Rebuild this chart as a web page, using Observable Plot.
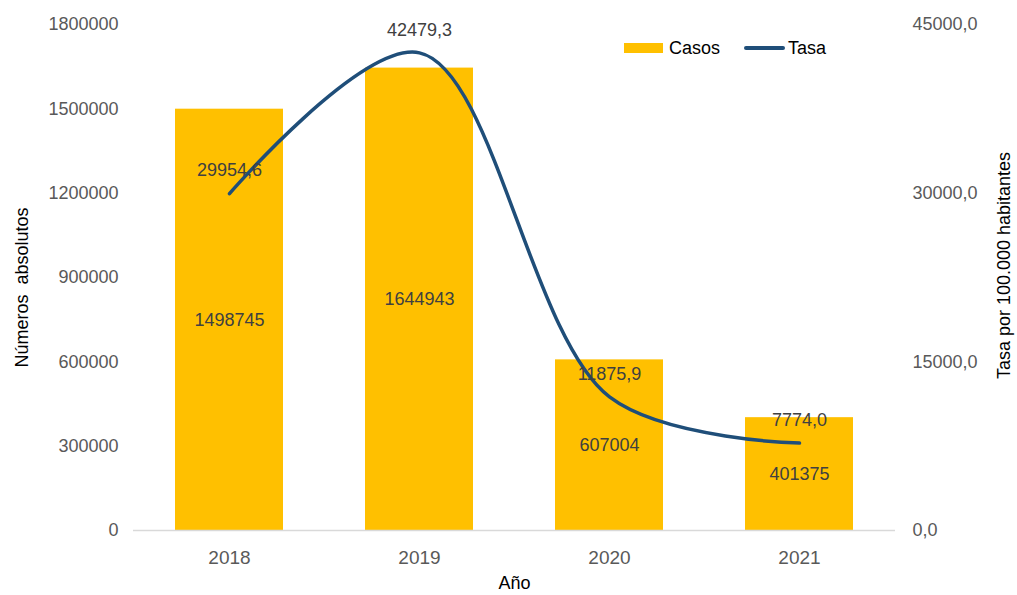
<!DOCTYPE html>
<html>
<head>
<meta charset="utf-8">
<script src="https://cdn.jsdelivr.net/npm/d3@7"></script>
<script src="https://cdn.jsdelivr.net/npm/@observablehq/plot@0.6"></script>
<style>
  html, body { margin: 0; padding: 0; background: #fff; }
  #wrap { position: relative; width: 1017px; height: 595px; font-family: "Liberation Sans", Arial, sans-serif; }
  .lg { position: absolute; }
  .lgtext { position: absolute; font-size: 18px; color: #000; line-height: 18px; }
</style>
</head>
<body>
<div id="wrap">
  <div id="chart"></div>
  <div class="lg" style="left:624px;top:43px;width:39px;height:10px;background:#FFC000;"></div>
  <div class="lgtext" style="left:669px;top:39px;">Casos</div>
  <div class="lg" style="left:744px;top:46px;width:41px;height:4px;border-radius:2px;background:#1F4E79;"></div>
  <div class="lgtext" style="left:788px;top:39px;">Tasa</div>
</div>
<script>
const years = ["2018", "2019", "2020", "2021"];
const casos = [1498745, 1644943, 607004, 401375];
const tasa = [29954.6, 42479.3, 11875.9, 7774.0];
const leftTicks = [0, 300000, 600000, 900000, 1200000, 1500000, 1800000];
const rightTicks = [0, 15000, 30000, 45000];

const ratio = 1800000 / 45000;
const fmt = d => d.toFixed(1).replace(".", ",");
const data = years.map((y, i) => ({year: y, casos: casos[i], tasa: tasa[i], tasaY: tasa[i] * ratio}));

const chart = Plot.plot({
  width: 1017,
  height: 595,
  marginLeft: 133,
  marginRight: 122,
  marginTop: 24,
  marginBottom: 65,
  x: {domain: years, paddingInner: 0.43, paddingOuter: 0.215, label: null},
  y: {domain: [0, 1800000], label: null},
  style: {fontFamily: "'Liberation Sans', Arial, sans-serif", fontSize: "18px", background: "#fff"},
  marks: [
    Plot.barY(data, {x: "year", y: "casos", fill: "#FFC000"}),
    Plot.ruleY([0], {stroke: "#D9D9D9", strokeWidth: 1.5}),
    Plot.axisY({ticks: leftTicks, tickSize: 0, tickPadding: 15, tickFormat: d => String(d), fill: "#595959", label: null}),
    Plot.axisY({ticks: rightTicks.map(d => d * ratio), anchor: "right", tickSize: 0, tickPadding: 17, tickFormat: d => fmt(d / ratio), fill: "#595959", label: null}),
    Plot.axisX({tickSize: 0, tickPadding: 20, fill: "#595959", label: null, fontSize: 19}),
    Plot.line(data, {x: "year", y: "tasaY", stroke: "#1F4E79", strokeWidth: 3.5, curve: "catmull-rom"}),
    Plot.text(data, {x: "year", y: d => d.casos / 2, text: d => String(d.casos), fill: "#404040"}),
    Plot.text(data, {x: "year", y: "tasaY", text: d => fmt(d.tasa), dy: -23, fill: "#404040"}),
    Plot.text(["Números  absolutos"], {text: d => d, frameAnchor: "left", textAnchor: "middle", dx: -111, dy: 10, rotate: -90, fill: "#000"}),
    Plot.text(["Tasa por 100.000 habitantes"], {text: d => d, frameAnchor: "right", textAnchor: "middle", dx: 109, dy: -12, rotate: -90, fill: "#000"}),
    Plot.text(["Año"], {text: d => d, frameAnchor: "bottom", dy: 58, fill: "#000"})
  ]
});
document.getElementById("chart").appendChild(chart);
</script>
</body>
</html>
